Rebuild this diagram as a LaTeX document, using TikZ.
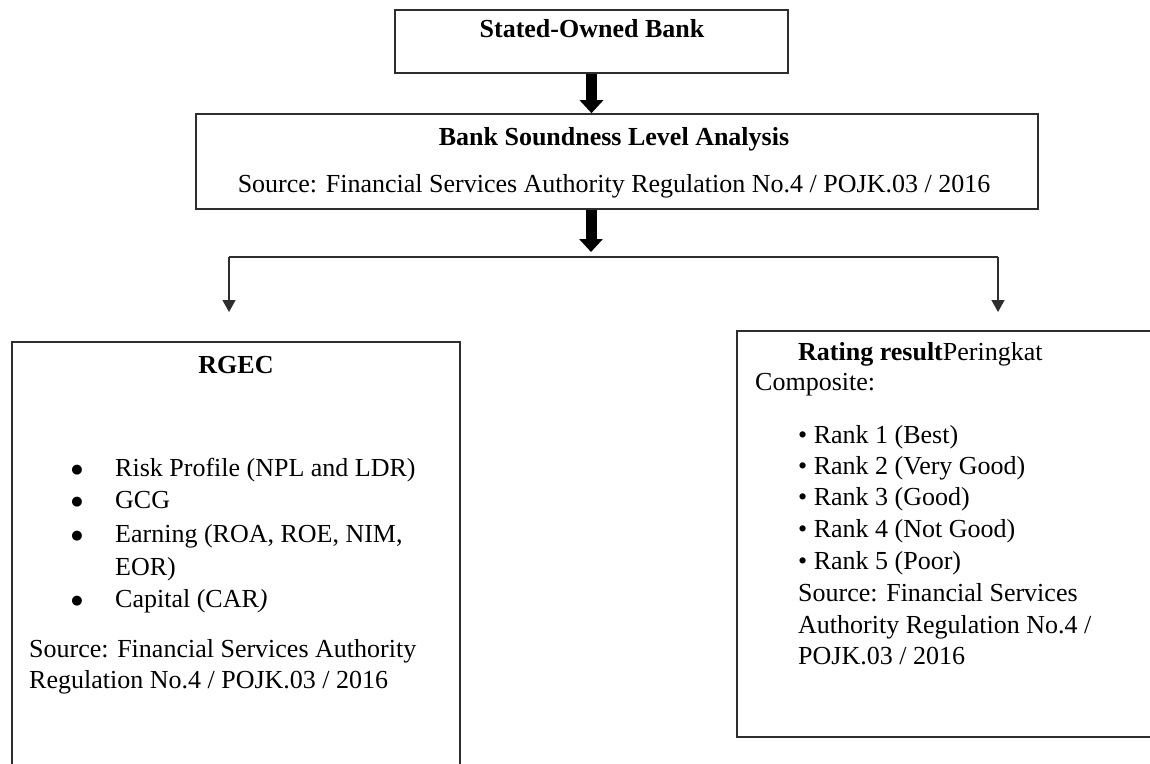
\documentclass[tikz,border=0pt]{standalone}
\usepackage{fontspec}
\setmainfont{Liberation Serif}
\newfontfamily\symfont{DejaVu Sans}
\usetikzlibrary{arrows.meta}
\definecolor{boxline}{HTML}{2E2E2E}
\begin{document}
\begin{tikzpicture}[x=1pt,y=-1pt,
  box/.style={draw=boxline, line width=1.6pt, inner sep=0pt, rectangle},
  txt/.style={inner sep=0pt, font=\fontsize{26}{32}\selectfont, text=black},
  bul/.style={inner sep=0pt, font=\symfont\fontsize{13}{15}\selectfont, text=black, anchor=base},
  bigarrow/.style={draw=black, line width=11pt, -{Triangle[width=23pt,length=13pt]}},
  conn/.style={draw=boxline, line width=1.5pt},
  smallarrow/.style={conn, -{Triangle[width=13pt,length=12pt]}}
]
\useasboundingbox (0,0) rectangle (1150,763);
\fill[white] (0,0) rectangle (1150,763);
\clip (0,0) rectangle (1150,763);

% boxes
\node[box, minimum width=393pt, minimum height=63pt] (top) at (591.5,41.5) {};
\node[box, minimum width=842pt, minimum height=95pt] (bsla) at (617,161.5) {};
\node[box, minimum width=448pt, minimum height=470pt] (rgec) at (236,577) {};
\node[box, minimum width=463pt, minimum height=406pt] (rating) at (968.5,534) {};

% top texts
\node[txt, anchor=base] (toptext) at (592,37) {\textbf{Stated-Owned Bank}};
\node[txt, anchor=base] (bslatitle) at (614,145) {\textbf{Bank Soundness Level Analysis}};
\node[txt, anchor=base] (bslasrc) at (614,192) {Source: Financial Services Authority Regulation No.4 / POJK.03 / 2016};

% connectors
\coordinate (split) at (591,252);
\coordinate (hl) at (229,257);
\coordinate (hr) at (998,257);
\coordinate (la) at (229,312);
\coordinate (ra) at (998,312);
\draw[bigarrow] (top.south) -- (top.south |- bsla.north);
\draw[bigarrow] (bsla.south -| split) -- (split);
\draw[conn] (hl) -- (hr);
\draw[smallarrow] (hl) -- (la);
\draw[smallarrow] (hr) -- (ra);

% left box texts
\node[txt, anchor=base] (rgectitle) at (236,373) {\textbf{RGEC}};
\node[bul] (b1) at (77,473) {●};
\node[txt, anchor=base west] (i1) at (115,476) {Risk Profile (NPL and LDR)};
\node[bul] (b2) at (77,505) {●};
\node[txt, anchor=base west] (i2) at (115,508) {GCG};
\node[bul] (b3) at (77,539) {●};
\node[txt, anchor=base west] (i3) at (115,542) {Earning (ROA, ROE, NIM,};
\node[txt, anchor=base west] (i3b) at (115,575) {EOR)};
\node[bul] (b4) at (77,604) {●};
\node[txt, anchor=base west] (i4) at (115,607) {Capital (CAR\textit{)}};
\node[txt, anchor=base west] (lsrc1) at (29,657) {Source: Financial Services Authority};
\node[txt, anchor=base west] (lsrc2) at (29,688) {Regulation No.4 / POJK.03 / 2016};

% right box texts
\node[txt, anchor=base west] (rtitle) at (798,360) {\textbf{Rating result}Peringkat};
\node[txt, anchor=base west] (rcomp) at (755,390) {Composite:};
\node[txt, anchor=base west] (r1) at (798,443) {• Rank 1 (Best)};
\node[txt, anchor=base west] (r2) at (798,474) {• Rank 2 (Very Good)};
\node[txt, anchor=base west] (r3) at (798,505) {• Rank 3 (Good)};
\node[txt, anchor=base west] (r4) at (798,537) {• Rank 4 (Not Good)};
\node[txt, anchor=base west] (r5) at (798,569) {• Rank 5 (Poor)};
\node[txt, anchor=base west] (rsrc1) at (798,601) {Source: Financial Services};
\node[txt, anchor=base west] (rsrc2) at (798,633) {Authority Regulation No.4 /};
\node[txt, anchor=base west] (rsrc3) at (798,664) {POJK.03 / 2016};
\end{tikzpicture}
\end{document}
